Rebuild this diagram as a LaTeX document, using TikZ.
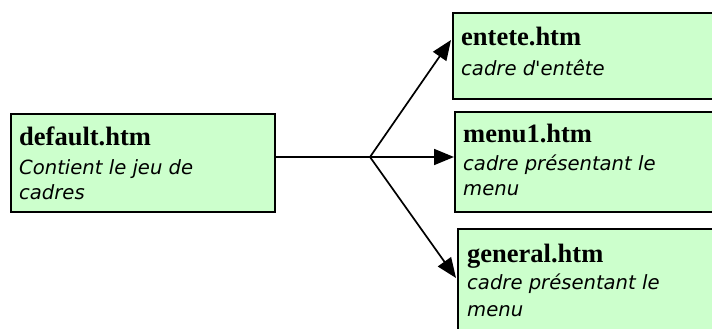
\documentclass[tikz,border=0pt]{standalone}
\usepackage{fontspec}
\setmainfont{Liberation Serif}
\newfontfamily\descfont{DejaVu Sans}
\usetikzlibrary{arrows.meta,calc}

\definecolor{framegreen}{HTML}{CCFFCC}

\tikzset{
  frame/.style={draw=black, line width=1.6pt, fill=framegreen, inner sep=0pt, anchor=north west},
  title/.style={anchor=base west, inner sep=0pt, font=\fontsize{26.5}{26.5}\selectfont\bfseries},
  desc/.style={anchor=base west, inner sep=0pt, font=\fontsize{19.6}{19.6}\selectfont\descfont\itshape},
  link/.style={line width=1.7pt, -{Triangle[length=20pt,width=16pt]}},
}

\begin{document}
\begin{tikzpicture}[x=1pt,y=-1pt]
  \useasboundingbox (0,0) rectangle (712,329);
  \clip (0,0) rectangle (712,329);

  % frames
  \node[frame, minimum width=264pt, minimum height=98pt] (default) at (10,113) {};
  \node[frame, minimum width=270pt, minimum height=86pt] (entete) at (452,12) {};
  \node[frame, minimum width=270pt, minimum height=100pt] (menu) at (454,111) {};
  \node[frame, minimum width=270pt, minimum height=120pt] (general) at (457,228) {};

  % labels
  \node[title] (t1) at (19,145) {default.htm};
  \node[desc]  (d1a) at (19,174) {Contient le jeu de};
  \node[desc]  (d1b) at (19,199) {cadres};

  \node[title] (t2) at (461,46) {entete.htm};
  \node[desc]  (d2a) at (461,76) {cadre d'entête};

  \node[title] (t3) at (463,142) {menu1.htm};
  \node[desc]  (d3a) at (463,170) {cadre présentant le};
  \node[desc]  (d3b) at (463,195) {menu};

  \node[title] (t4) at (467,262) {general.htm};
  \node[desc]  (d4a) at (467,289) {cadre présentant le};
  \node[desc]  (d4b) at (467,316) {menu};

  % connectors
  \coordinate (fork) at (370,157);
  \draw[line width=1.7pt] (default.east |- fork) -- (fork);
  \draw[link] (fork) -- ($(entete.north west)+(-1,28)$);
  \draw[link] (fork) -- (menu.west |- fork);
  \draw[link] (fork) -- ($(general.north west)+(-1,50)$);
\end{tikzpicture}
\end{document}
